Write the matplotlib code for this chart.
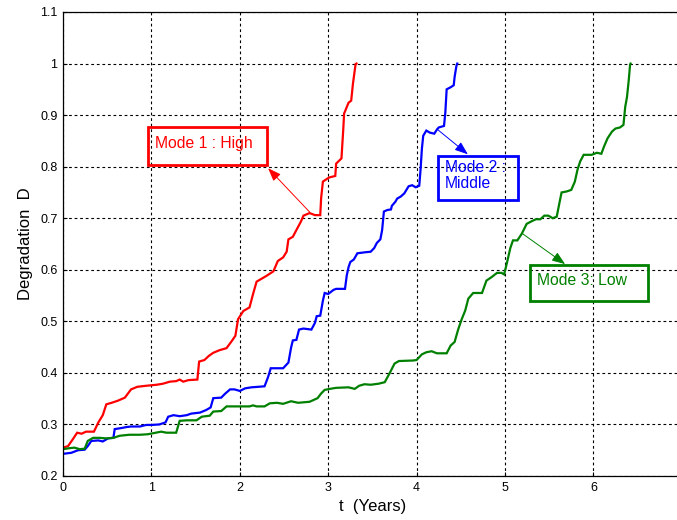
import matplotlib
matplotlib.use("Agg")
import matplotlib.pyplot as plt
from matplotlib.patches import Rectangle

plt.rcParams['font.family'] = ['Liberation Sans', 'DejaVu Sans']

# ---------------- data ----------------
red_x = [0, 0.057, 0.11, 0.16, 0.21, 0.26, 0.35, 0.40, 0.45, 0.49, 0.55, 0.62, 0.70, 0.77, 0.84,
         0.94, 1.06, 1.13, 1.21, 1.28, 1.32, 1.36, 1.42, 1.52, 1.54, 1.60, 1.65, 1.70, 1.77, 1.85,
         1.91, 1.95, 1.98, 2.04, 2.11, 2.15, 2.19, 2.25, 2.30, 2.38, 2.43, 2.49, 2.53, 2.55, 2.60,
         2.64, 2.69, 2.72, 2.79, 2.85, 2.91, 2.92, 2.94, 3.01, 3.08, 3.09, 3.15, 3.17, 3.18, 3.23,
         3.26, 3.28, 3.31, 3.32]
red_y = [0.255, 0.258, 0.271, 0.284, 0.282, 0.286, 0.286, 0.304, 0.318, 0.339, 0.342, 0.346, 0.352,
         0.368, 0.373, 0.375, 0.377, 0.379, 0.383, 0.384, 0.387, 0.383, 0.386, 0.387, 0.422, 0.425,
         0.433, 0.439, 0.444, 0.448, 0.462, 0.472, 0.504, 0.520, 0.527, 0.553, 0.577, 0.583, 0.588,
         0.597, 0.617, 0.624, 0.635, 0.659, 0.664, 0.677, 0.693, 0.705, 0.710, 0.706, 0.706, 0.739,
         0.771, 0.779, 0.782, 0.806, 0.816, 0.871, 0.903, 0.924, 0.928, 0.961, 0.999, 1.0]

blue_x = [0, 0.094, 0.17, 0.245, 0.28, 0.32, 0.40, 0.45, 0.51, 0.57, 0.585, 0.66, 0.72, 0.77, 0.87,
          0.94, 1.0, 1.09, 1.16, 1.19, 1.25, 1.32, 1.40, 1.45, 1.55, 1.62, 1.67, 1.70, 1.79, 1.83,
          1.89, 1.94, 2.0, 2.06, 2.13, 2.21, 2.28, 2.32, 2.35, 2.49, 2.55, 2.58, 2.60, 2.64, 2.67,
          2.72, 2.81, 2.85, 2.87, 2.91, 2.94, 2.96, 3.0, 3.06, 3.09, 3.19, 3.21, 3.23, 3.25, 3.29,
          3.33, 3.42, 3.48, 3.52, 3.55, 3.59, 3.61, 3.63, 3.67, 3.71, 3.72, 3.76, 3.78, 3.82, 3.86,
          3.91, 3.95, 3.99, 4.03, 4.045, 4.06, 4.075, 4.11, 4.15, 4.20, 4.23, 4.25, 4.31, 4.325,
          4.34, 4.385, 4.42, 4.43, 4.45, 4.46]
blue_y = [0.243, 0.245, 0.250, 0.251, 0.258, 0.268, 0.269, 0.267, 0.273, 0.274, 0.291, 0.293, 0.295,
          0.296, 0.296, 0.299, 0.299, 0.300, 0.304, 0.315, 0.318, 0.316, 0.318, 0.321, 0.323, 0.328,
          0.333, 0.351, 0.352, 0.359, 0.368, 0.368, 0.365, 0.370, 0.372, 0.373, 0.374, 0.392, 0.409,
          0.409, 0.420, 0.449, 0.463, 0.464, 0.484, 0.486, 0.484, 0.497, 0.510, 0.511, 0.540, 0.555,
          0.553, 0.561, 0.563, 0.563, 0.589, 0.605, 0.615, 0.620, 0.632, 0.634, 0.635, 0.642, 0.652,
          0.659, 0.677, 0.713, 0.716, 0.717, 0.724, 0.732, 0.738, 0.742, 0.748, 0.762, 0.764, 0.760,
          0.763, 0.795, 0.835, 0.860, 0.870, 0.866, 0.864, 0.872, 0.876, 0.879, 0.905, 0.950, 0.954,
          0.958, 0.974, 0.995, 1.0]

green_x = [0, 0.075, 0.13, 0.19, 0.245, 0.28, 0.34, 0.415, 0.49, 0.57, 0.64, 0.75, 0.87, 0.96, 1.02,
           1.11, 1.17, 1.28, 1.32, 1.40, 1.51, 1.57, 1.66, 1.70, 1.79, 1.85, 2.0, 2.11, 2.15, 2.19,
           2.28, 2.34, 2.42, 2.49, 2.58, 2.66, 2.79, 2.88, 2.92, 2.96, 3.02, 3.09, 3.23, 3.30, 3.35,
           3.41, 3.48, 3.57, 3.64, 3.70, 3.75, 3.80, 3.96, 4.0, 4.06, 4.11, 4.17, 4.23, 4.34, 4.385,
           4.43, 4.47, 4.51, 4.55, 4.585, 4.64, 4.74, 4.79, 4.85, 4.91, 4.96, 4.99, 5.02, 5.06, 5.09,
           5.14, 5.19, 5.245, 5.30, 5.35, 5.40, 5.445, 5.49, 5.54, 5.585, 5.615, 5.64, 5.70, 5.75,
           5.79, 5.82, 5.85, 5.89, 5.98, 6.04, 6.09, 6.12, 6.16, 6.21, 6.25, 6.30, 6.34, 6.36, 6.38,
           6.40, 6.415, 6.42]
green_y = [0.252, 0.254, 0.255, 0.252, 0.253, 0.268, 0.274, 0.274, 0.273, 0.274, 0.278, 0.280, 0.280,
           0.281, 0.283, 0.286, 0.284, 0.284, 0.307, 0.308, 0.308, 0.315, 0.317, 0.325, 0.326, 0.335,
           0.335, 0.335, 0.337, 0.335, 0.335, 0.341, 0.342, 0.340, 0.345, 0.342, 0.344, 0.351, 0.360,
           0.367, 0.369, 0.371, 0.372, 0.369, 0.375, 0.378, 0.377, 0.379, 0.382, 0.401, 0.418, 0.423,
           0.424, 0.425, 0.436, 0.440, 0.442, 0.438, 0.438, 0.453, 0.460, 0.484, 0.504, 0.521, 0.544,
           0.555, 0.555, 0.579, 0.586, 0.594, 0.594, 0.591, 0.612, 0.642, 0.657, 0.657, 0.670, 0.689,
           0.694, 0.698, 0.698, 0.705, 0.705, 0.700, 0.703, 0.729, 0.750, 0.752, 0.755, 0.771, 0.794,
           0.810, 0.823, 0.823, 0.827, 0.825, 0.839, 0.855, 0.868, 0.874, 0.876, 0.881, 0.916, 0.935,
           0.968, 0.998, 1.0]

x_ticks = [0, 1, 2, 3, 4, 5, 6]
y_ticks = [0.2, 0.3, 0.4, 0.5, 0.6, 0.7, 0.8, 0.9, 1.0, 1.1]
y_tick_labels = ["0.2", "0.3", "0.4", "0.5", "0.6", "0.7", "0.8", "0.9", "1", "1.1"]

labels = ["Mode 1 : High", "Mode 2 :\nMiddle", "Mode 3: Low"]
colors = ["#ff0000", "#0000ff", "#008000"]

# annotation layout: box (x0, y0, x1, y1), arrow tail, arrow tip
boxes = [(0.96, 0.803, 2.31, 0.877), (4.24, 0.735, 5.15, 0.821), (5.28, 0.539, 6.62, 0.609)]
arrow_tails = [(2.79, 0.712), (4.23, 0.873), (5.19, 0.671)]
arrow_tips = [(2.32, 0.797), (4.58, 0.824), (5.68, 0.611)]

# ---------------- figure ----------------
fig = plt.figure(figsize=(6.77, 5.2), dpi=100)
ax = fig.add_axes([63 / 677, 44 / 520, 7 * 88.4 / 677, 464 / 520])

for xs, ys, c in zip([red_x, blue_x, green_x], [red_y, blue_y, green_y], colors):
    ax.plot(xs, ys, color=c, lw=1.6, solid_joinstyle='miter')

ax.set_xlim(0, 7)
ax.set_ylim(0.2, 1.1)
ax.set_xticks(x_ticks)
ax.set_xticklabels([str(t) for t in x_ticks])
ax.set_yticks(y_ticks)
ax.set_yticklabels(y_tick_labels)
ax.tick_params(direction='in', length=3, labelsize=9, pad=4, top=False, right=False)
ax.grid(True, color='black', linestyle=(0, (2.5, 2.5)), lw=0.8)
for s in ax.spines.values():
    s.set_linewidth(0.9)

ax.set_xlabel("t  (Years)", fontsize=12, labelpad=4)
ax.set_ylabel("Degradation  D", fontsize=12, labelpad=5)

for lab, c, (x0, y0, x1, y1), tail, tip in zip(labels, colors, boxes, arrow_tails, arrow_tips):
    ax.annotate("", xy=tip, xytext=tail,
                arrowprops=dict(arrowstyle='-|>,head_length=0.8,head_width=0.3', color=c, lw=0.7,
                                shrinkA=0, shrinkB=0))
    ax.add_patch(Rectangle((x0, y0), x1 - x0, y1 - y0, fill=False, edgecolor=c, lw=2, zorder=5,
                           clip_on=False))
    ax.text(x0 + 0.08, (y0 + y1) / 2 + 0.005, lab, color=c, fontsize=11.3, va='center', ha='left',
            zorder=6, linespacing=1.05)

fig.savefig("out.png", dpi=100)
